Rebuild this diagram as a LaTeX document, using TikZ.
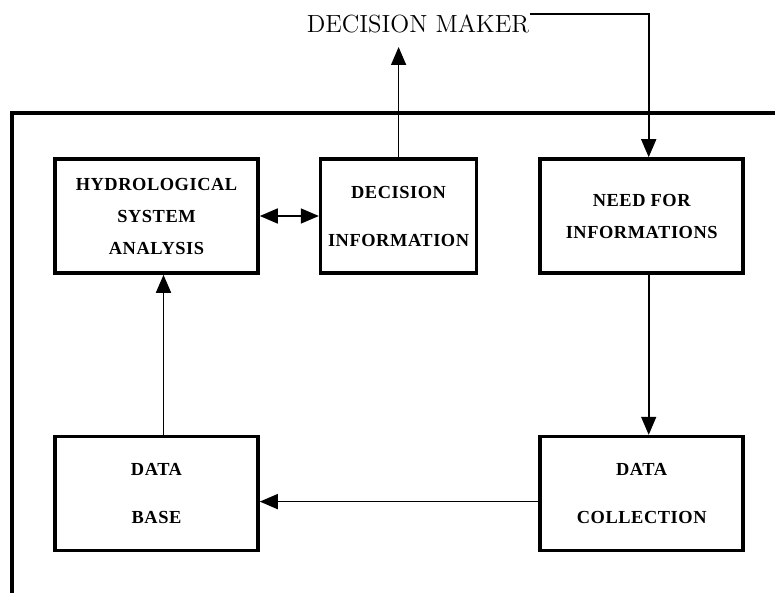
\documentclass[tikz,border=0pt]{standalone}
\usepackage{fontspec}
\newfontfamily\boxfont[LetterSpace=3]{Liberation Serif}
\usetikzlibrary{positioning,arrows.meta}
\tikzset{
    procbox/.style={
        rectangle,
        draw,
        line width=1.8pt,
        minimum width=101.5pt,
        minimum height=57pt,
        align=center,
        inner sep=2pt,
        font=\boxfont\bfseries\fontsize{9.2}{16}\selectfont
    },
    ptr/.style={
        -{Triangle[length=9pt,width=7.5pt]},
        line width=0.8pt
    },
    dptr/.style={
        {Triangle[length=9pt,width=7.5pt]}-{Triangle[length=9pt,width=7.5pt]},
        line width=0.8pt
    },
    frame/.style={line width=2.2pt}
}

\begin{document}
\begin{tikzpicture}[x=0.5pt, y=-0.5pt]
                \useasboundingbox (0,0) rectangle (775,593);
                \draw[frame] (12,593) -- (12,113) -- (775,113);

                \node[procbox] (hsa) at (156.5,216) {HYDROLOGICAL\\SYSTEM\\ANALYSIS};
                \node[procbox, minimum width=78pt, right=29.5pt of hsa] (dinfo) {DECISION\\[8pt]INFORMATION};
                \node[procbox, right=30pt of dinfo] (nfi) {NEED FOR\\INFORMATIONS};
                \node[procbox, below=80pt of hsa] (dbase) {DATA\\[8pt]BASE};
                \node[procbox, below=80pt of nfi] (dcoll) {DATA\\[8pt]COLLECTION};

                \node[font=\fontsize{12.4}{15}\selectfont, inner sep=0pt] (dmaker) at (418,23.5) {DECISION MAKER};
                \coordinate (dmtip) at (395,47);

                \draw[ptr] (dinfo.north) -- (dinfo.north |- dmtip);
                \draw[ptr] (dmaker.north east) -| ([xshift=3.5pt]nfi.north);
                \draw[dptr] (hsa.east) -- (dinfo.west);
                \draw[ptr] ([xshift=3.5pt]dbase.north) -- ([xshift=3.5pt]hsa.south);
                \draw[ptr] ([xshift=3.5pt]nfi.south) -- ([xshift=3.5pt]dcoll.north);
                \draw[ptr] ([yshift=-4pt]dcoll.west) -- ([yshift=-4pt]dbase.east);
            \end{tikzpicture}
\end{document}
